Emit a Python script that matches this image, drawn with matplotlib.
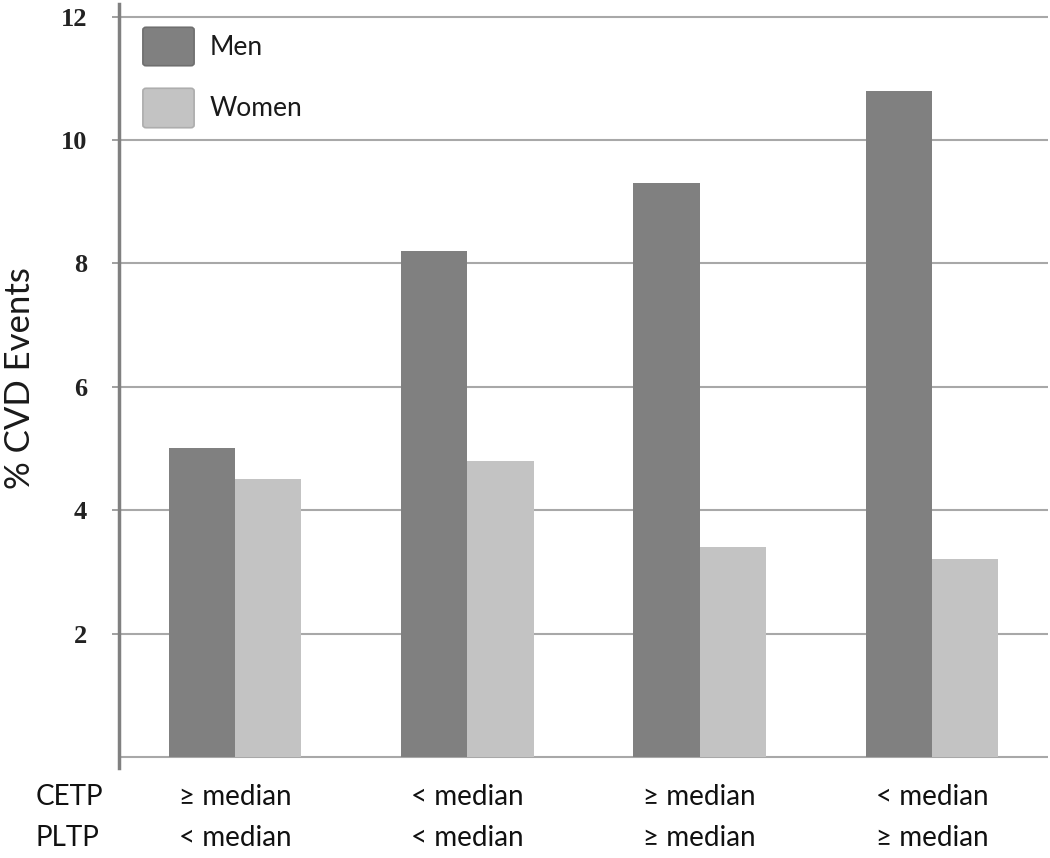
import matplotlib
matplotlib.use("Agg")
import matplotlib.pyplot as plt
import matplotlib.transforms as mtransforms
from matplotlib.patches import FancyBboxPatch
import numpy as np

cetp_labels = ["≥ median", "< median", "≥ median", "< median"]
pltp_labels = ["< median", "< median", "≥ median", "≥ median"]
men = [5.0, 8.2, 9.3, 10.8]
women = [4.5, 4.8, 3.4, 3.2]
yticks = [2, 4, 6, 8, 10, 12]
series_names = ["Men", "Women"]
series_colors = ["#808080", "#c3c3c3"]

W, H = 1050, 858
fig = plt.figure(figsize=(10.5, 8.58), dpi=100)
ax = fig.add_axes([119/W, (H-768)/H, (1048-119)/W, (768-4.3)/H])

x = np.arange(len(men))
w = 0.285
ax.bar(x - w/2, men, width=w, color=series_colors[0], label=series_names[0], zorder=3)
ax.bar(x + w/2, women, width=w, color=series_colors[1], label=series_names[1], zorder=3)

ax.set_xlim(-0.5, 3.5)
ax.set_ylim(-0.18, 12.2)
for g in [0] + yticks:
    ax.axhline(g, color="#a8a8a8", lw=1.5, zorder=1)
ax.set_yticks(yticks)
ax.set_yticklabels([str(t) for t in yticks], fontfamily="Liberation Serif",
                   fontweight="bold", fontsize=19, color="#222222")
ax.tick_params(axis="y", length=5, width=1.2, color="#909090", pad=18)
ax.set_xticks([])
for s in ["top", "right", "bottom"]:
    ax.spines[s].set_visible(False)
ax.spines["left"].set_color("#808080")
ax.spines["left"].set_linewidth(2.5)

fig.text(20/W, 1 - 378/H, "% CVD Events", rotation=90, ha="center", va="center",
         fontfamily="Lato", fontsize=25, color="#1a1a1a")

# legend drawn manually in figure pixel coordinates
leg_rows = [(27, 66), (88, 128)]
for (y0, y1), name, col in zip(leg_rows, series_names, series_colors):
    edge = "#6f6f6f" if col == "#808080" else "#adadad"
    p = FancyBboxPatch((145/W, 1 - (y1 - 2)/H), 47/W, (y1 - y0 - 4)/H,
                       boxstyle="round,pad=0.002,rounding_size=0.003",
                       transform=fig.transFigure, facecolor=col, edgecolor=edge, lw=1.2)
    fig.patches.append(p)
    fig.text(210/W, 1 - ((y0 + y1) / 2 + 1)/H, name, ha="left", va="center",
             fontfamily="Lato", fontsize=19, color="#1a1a1a")

trans = mtransforms.blended_transform_factory(ax.transData, fig.transFigure)
fig.text(36/W, 1 - 797/H, "CETP", ha="left", va="center",
         fontfamily="Lato", fontsize=20, color="#111111")
fig.text(36/W, 1 - 838/H, "PLTP", ha="left", va="center",
         fontfamily="Lato", fontsize=20, color="#111111")
for i in range(len(men)):
    ax.text(x[i], 1 - 797/H, cetp_labels[i], transform=trans, ha="center", va="center",
            fontfamily=["Lato", "DejaVu Sans"], fontsize=20, color="#111111")
    ax.text(x[i], 1 - 838/H, pltp_labels[i], transform=trans, ha="center", va="center",
            fontfamily=["Lato", "DejaVu Sans"], fontsize=20, color="#111111")

fig.savefig("out.png", dpi=100)
